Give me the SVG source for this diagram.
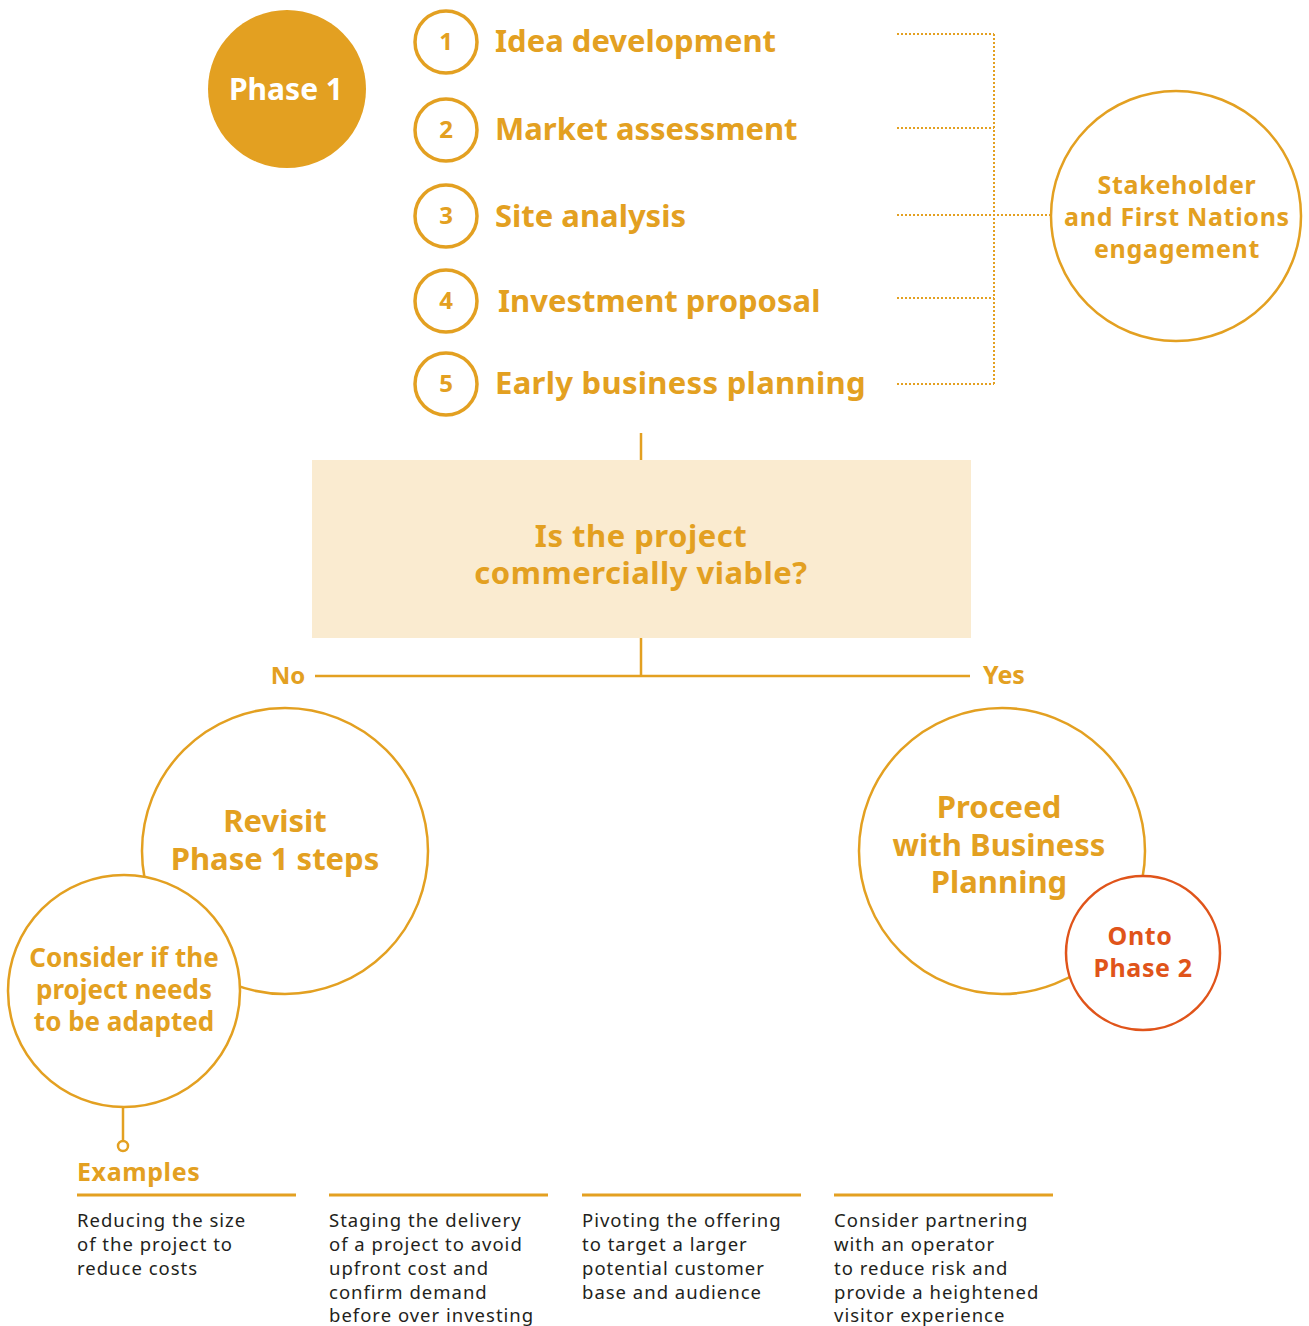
<svg xmlns="http://www.w3.org/2000/svg" width="1309" height="1326" viewBox="0 0 1309 1326">
<style>
.t{font-family:"Noto Sans","Liberation Sans",sans-serif;font-weight:700;fill:#E3A021}
.ring{fill:#fff;stroke:#E3A021;stroke-width:2.5}
.num{fill:none;stroke:#E3A021;stroke-width:3.5}
.dot{fill:none;stroke:#E3A021;stroke-width:2;stroke-dasharray:2 2}
.ln{fill:none;stroke:#E3A021;stroke-width:2.5}
.body{font-family:"Noto Sans","Liberation Sans",sans-serif;font-size:18.5px;letter-spacing:1px;fill:#231f20}
</style>
<rect width="1309" height="1326" fill="#fff"/>
<g id="connectors">
<path class="dot" d="M897 34H994M897 128H994M897 215H1050M897 298H994M897 384H994M994 34V384"/>
<path class="ln" d="M641 433V460M641 638V676M315 676H970"/>
<path class="ln" d="M123 1108V1141"/>
<circle cx="123" cy="1146" r="5" fill="#fff" stroke="#E3A021" stroke-width="2.5"/>
</g>
<g id="phase1">
<circle cx="287" cy="89" r="79" fill="#E3A021"/>
<text x="286" y="100" font-size="30" text-anchor="middle" class="t" style="fill:#fff">Phase 1</text>
</g>
<g id="step1"><circle class="num" cx="446" cy="42" r="31"/><text class="t" x="446" y="50" font-size="24" text-anchor="middle">1</text><text class="t" x="495" y="52" font-size="31">Idea development</text></g>
<g id="step2"><circle class="num" cx="446" cy="130" r="31"/><text class="t" x="446" y="138" font-size="24" text-anchor="middle">2</text><text class="t" x="495" y="140" font-size="31">Market assessment</text></g>
<g id="step3"><circle class="num" cx="446" cy="216" r="31"/><text class="t" x="446" y="224" font-size="24" text-anchor="middle">3</text><text class="t" x="495" y="227" font-size="31">Site analysis</text></g>
<g id="step4"><circle class="num" cx="446" cy="301" r="31"/><text class="t" x="446" y="309" font-size="24" text-anchor="middle">4</text><text class="t" x="498" y="312" font-size="31">Investment proposal</text></g>
<g id="step5"><circle class="num" cx="446" cy="384" r="31"/><text class="t" x="446" y="392" font-size="24" text-anchor="middle">5</text><text class="t" x="495" y="394" font-size="31" letter-spacing="0.3">Early business planning</text></g>
<g id="stakeholder">
<circle class="ring" cx="1176" cy="216" r="125"/>
<text class="t" font-size="25" letter-spacing="0.7" text-anchor="middle"><tspan x="1177" y="194">Stakeholder</tspan><tspan x="1177" y="226">and First Nations</tspan><tspan x="1177" y="258">engagement</tspan></text>
</g>
<g id="decision">
<rect x="312" y="460" width="659" height="178" fill="#FAEBD0"/>
<text class="t" font-size="31" letter-spacing="0.5" text-anchor="middle"><tspan x="641" y="547">Is the project</tspan><tspan x="641" y="584">commercially viable?</tspan></text>
</g>
<g id="labels">
<text class="t" x="288" y="684" font-size="24" text-anchor="middle">No</text>
<text class="t" x="1004" y="684" font-size="25" text-anchor="middle">Yes</text>
</g>
<g id="revisit">
<circle class="ring" cx="285" cy="851" r="143"/>
<text class="t" font-size="31" text-anchor="middle"><tspan x="275" y="832">Revisit</tspan><tspan x="275" y="870">Phase 1 steps</tspan></text>
</g>
<g id="adapt">
<circle class="ring" cx="124" cy="991" r="116"/>
<text class="t" font-size="26" text-anchor="middle"><tspan x="124" y="967">Consider if the</tspan><tspan x="124" y="999">project needs</tspan><tspan x="124" y="1031">to be adapted</tspan></text>
</g>
<g id="proceed">
<circle class="ring" cx="1002" cy="851" r="143"/>
<text class="t" font-size="31" text-anchor="middle"><tspan x="999" y="818">Proceed</tspan><tspan x="999" y="856">with Business</tspan><tspan x="999" y="893">Planning</tspan></text>
</g>
<g id="phase2">
<circle cx="1143" cy="953" r="77" fill="#fff" stroke="#E0541A" stroke-width="2.5"/>
<text class="t" font-size="25" letter-spacing="0.6" text-anchor="middle" style="fill:#E0541A"><tspan x="1140" y="945">Onto</tspan><tspan x="1143" y="977">Phase 2</tspan></text>
</g>
<g id="examples">
<text class="t" x="77" y="1181" font-size="25" letter-spacing="0.6">Examples</text>
<path d="M77 1195H296M329 1195H548M582 1195H801M834 1195H1053" stroke="#E3A021" stroke-width="3" fill="none"/>
<text class="body"><tspan x="77" y="1227">Reducing the size</tspan><tspan x="77" y="1251">of the project  to</tspan><tspan x="77" y="1275">reduce costs</tspan></text>
<text class="body"><tspan x="329" y="1227">Staging the delivery</tspan><tspan x="329" y="1251">of a project to avoid</tspan><tspan x="329" y="1275">upfront cost and</tspan><tspan x="329" y="1299">confirm demand</tspan><tspan x="329" y="1322">before over investing</tspan></text>
<text class="body"><tspan x="582" y="1227">Pivoting the offering</tspan><tspan x="582" y="1251">to target a larger</tspan><tspan x="582" y="1275">potential customer</tspan><tspan x="582" y="1299">base and audience</tspan></text>
<text class="body"><tspan x="834" y="1227">Consider partnering</tspan><tspan x="834" y="1251">with an operator</tspan><tspan x="834" y="1275">to reduce risk and</tspan><tspan x="834" y="1299">provide a heightened</tspan><tspan x="834" y="1322">visitor experience</tspan></text>
</g>
</svg>
